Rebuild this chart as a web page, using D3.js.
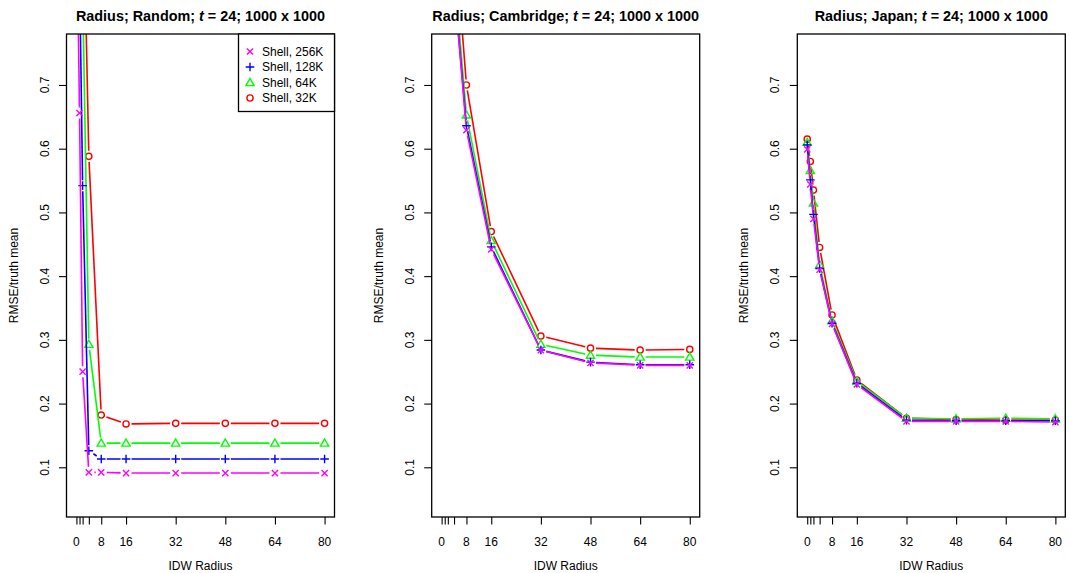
<!DOCTYPE html>
<html>
<head>
<meta charset="utf-8">
<script src="https://cdn.jsdelivr.net/npm/d3@7"></script>
<style>
  body { margin: 0; background: #fff; }
  svg { display: block; font-family: "Liberation Sans", Arial, Helvetica, sans-serif; }
  .title { font-weight: bold; font-size: 14.4px; }
  .tick_label, .axis_title, .legend_text { font-size: 12px; }
</style>
</head>
<body>
<div id="chart"></div>
<script>

// IDW radius values (x) shared by every panel
var radius = [0, 1, 2, 4, 8, 16, 32, 48, 64, 80]
var xTickLabels = [0, 8, 16, 32, 48, 64, 80]
var yTicks = [0.1, 0.2, 0.3, 0.4, 0.5, 0.6, 0.7]

var seriesNames = ["Shell, 256K", "Shell, 128K", "Shell, 64K", "Shell, 32K"]

// RMSE / truth mean, one row per series (256K, 128K, 64K, 32K)
var randomValues = [
    [1.00, 0.656, 0.250, 0.092, 0.092, 0.091, 0.091, 0.091, 0.091, 0.091],
    [1.00, 0.880, 0.542, 0.126, 0.113, 0.113, 0.113, 0.113, 0.113, 0.113],
    [1.00, 1.000, 0.850, 0.293, 0.138, 0.138, 0.138, 0.138, 0.138, 0.138],
    [1.00, 1.000, 1.050, 0.588, 0.182, 0.168, 0.169, 0.169, 0.169, 0.169]
]

var cambridgeValues = [
    [1.00, 1.00, 1.00, 0.86, 0.629, 0.442, 0.284, 0.264, 0.260, 0.260],
    [1.00, 1.00, 1.00, 0.86, 0.636, 0.446, 0.284, 0.265, 0.261, 0.261],
    [1.00, 1.00, 1.00, 0.88, 0.653, 0.456, 0.293, 0.276, 0.273, 0.273],
    [1.00, 1.00, 1.00, 0.95, 0.700, 0.470, 0.306, 0.287, 0.284, 0.285]
]

var japanValues = [
    [0.599, 0.544, 0.490, 0.410, 0.325, 0.230, 0.172, 0.172, 0.172, 0.171],
    [0.606, 0.551, 0.497, 0.412, 0.326, 0.232, 0.174, 0.173, 0.173, 0.173],
    [0.610, 0.566, 0.515, 0.418, 0.330, 0.235, 0.177, 0.176, 0.177, 0.176],
    [0.615, 0.580, 0.535, 0.445, 0.339, 0.237, 0.177, 0.175, 0.174, 0.174]
]

var panels = [
    {name: "Random", values: randomValues, legend: true},
    {name: "Cambridge", values: cambridgeValues, legend: false},
    {name: "Japan", values: japanValues, legend: false}
]

var colours = ["#ff00ff", "#0000ff", "#00ff00", "#ff0000"]
var shapes = ["cross", "plus", "triangle", "circle"]

var width = 1069, height = 573
var panelLefts = [66.5, 431.7, 797.3]
var panelWidth = 268
var plotTop = 34, plotBottom = 517

var svg = d3.select("#chart").append("svg")
    .attr("width", width)
    .attr("height", height)

//R style pch symbols, all stroked
function symbolPath(shape) {
    if (shape == "cross") {
        var s = 3.1
        return "M" + (-s) + "," + (-s) + "L" + s + "," + s + "M" + (-s) + "," + s + "L" + s + "," + (-s)
    }
    if (shape == "plus") {
        var p = 4.3
        return "M" + (-p) + ",0L" + p + ",0M0," + (-p) + "L0," + p
    }
    //triangle
    var h = 4.1
    return "M0," + (-h) + "L" + h + "," + (h * 0.75) + "L" + (-h) + "," + (h * 0.75) + "Z"
}

function drawSymbol(g, shape, colour, x, y) {
    if (shape == "circle") {
        g.append("circle").attr("cx", x).attr("cy", y).attr("r", 3.1)
            .attr("fill", "none").attr("stroke", colour).attr("stroke-width", 1.4)
    } else {
        g.append("path").attr("d", symbolPath(shape))
            .attr("transform", "translate(" + x + "," + y + ")")
            .attr("fill", "none").attr("stroke", colour).attr("stroke-width", 1.4)
    }
}

panels.forEach(function(panel, pi) {

    var left = panelLefts[pi], right = left + panelWidth

    var x = d3.scaleLinear().domain([-3.2, 83.2]).range([left, right])
    var y = d3.scaleLinear().domain([0.022, 0.780]).range([plotBottom, plotTop])

    var g = svg.append("g")

    g.append("clipPath").attr("id", "clip" + pi)
        .append("rect")
        .attr("x", left).attr("y", plotTop)
        .attr("width", panelWidth).attr("height", plotBottom - plotTop)

    var plot = g.append("g").attr("clip-path", "url(#clip" + pi + ")")

    //Draw series back to front so 256K ends up on top
    for (var si = panel.values.length - 1; si >= 0; si--) {
        var vals = panel.values[si]
        var pts = radius.map(function(r, i) { return [x(r), y(vals[i])] })

        //type = "b": segments stop short of the points
        var gap = 5.5
        for (var i = 0; i < pts.length - 1; i++) {
            var a = pts[i], b = pts[i + 1]
            var dx = b[0] - a[0], dy = b[1] - a[1]
            var len = Math.sqrt(dx * dx + dy * dy)
            if (len <= 2 * gap) continue
            var ux = dx / len, uy = dy / len
            plot.append("line")
                .attr("x1", a[0] + ux * gap).attr("y1", a[1] + uy * gap)
                .attr("x2", b[0] - ux * gap).attr("y2", b[1] - uy * gap)
                .attr("stroke", colours[si])
                .attr("stroke-width", 1.6)
        }

        pts.forEach(function(p) {
            drawSymbol(plot, shapes[si], colours[si], p[0], p[1])
        })
    }

    //Box round the plot
    g.append("rect")
        .attr("x", left).attr("y", plotTop)
        .attr("width", panelWidth).attr("height", plotBottom - plotTop)
        .attr("fill", "none").attr("stroke", "#000").attr("stroke-width", 1.3)

    //x axis: ticks at every radius, labels only on some
    var xAxis = d3.axisBottom(x)
        .tickValues(radius)
        .tickSize(7.5)
        .tickFormat("")
    var xg = g.append("g").attr("transform", "translate(0," + plotBottom + ")").call(xAxis)
    xg.select(".domain").remove()
    xg.selectAll(".tick line").attr("stroke-width", 1.1)

    g.selectAll(".xlab")
        .data(xTickLabels)
        .enter()
        .append("text")
        .attr("class", "tick_label")
        .attr("x", function(d) { return x(d) })
        .attr("y", plotBottom + 28.5)
        .attr("text-anchor", "middle")
        .text(function(d) { return d })

    //y axis with rotated labels
    var yAxis = d3.axisLeft(y).tickValues(yTicks).tickSize(7.5).tickFormat("")
    var yg = g.append("g").attr("transform", "translate(" + left + ",0)").call(yAxis)
    yg.select(".domain").remove()
    yg.selectAll(".tick line").attr("stroke-width", 1.1)

    g.selectAll(".ylab")
        .data(yTicks)
        .enter()
        .append("text")
        .attr("class", "tick_label")
        .attr("transform", function(d) { return "translate(" + (left - 18) + "," + y(d) + ") rotate(-90)" })
        .attr("text-anchor", "middle")
        .text(function(d) { return d3.format(".1f")(d) })

    g.append("text")
        .attr("class", "axis_title")
        .attr("transform", "translate(" + (left - 49) + "," + ((plotTop + plotBottom) / 2) + ") rotate(-90)")
        .attr("text-anchor", "middle")
        .text("RMSE/truth mean")

    g.append("text")
        .attr("class", "axis_title")
        .attr("x", (left + right) / 2)
        .attr("y", plotBottom + 52.5)
        .attr("text-anchor", "middle")
        .text("IDW Radius")

    var title = g.append("text")
        .attr("class", "title")
        .attr("x", (left + right) / 2)
        .attr("y", 21)
        .attr("text-anchor", "middle")
    title.append("tspan").text("Radius; " + panel.name + "; ")
    title.append("tspan").attr("font-style", "italic").text("t")
    title.append("tspan").text(" = 24; 1000 x 1000")

    if (panel.legend) {
        var lx = 238.5, lw = right - lx, lh = 77.5
        var leg = g.append("g")
        leg.append("rect")
            .attr("x", lx).attr("y", plotTop)
            .attr("width", lw).attr("height", lh)
            .attr("fill", "#fff").attr("stroke", "#000").attr("stroke-width", 1.3)

        seriesNames.forEach(function(name, i) {
            var ly = plotTop + 17.5 + i * 15.5
            drawSymbol(leg, shapes[i], colours[i], lx + 11.5, ly)
            leg.append("text")
                .attr("class", "legend_text")
                .attr("x", lx + 23.5)
                .attr("y", ly + 4.3)
                .text(name)
        })
    }

})

</script>
</body>
</html>
